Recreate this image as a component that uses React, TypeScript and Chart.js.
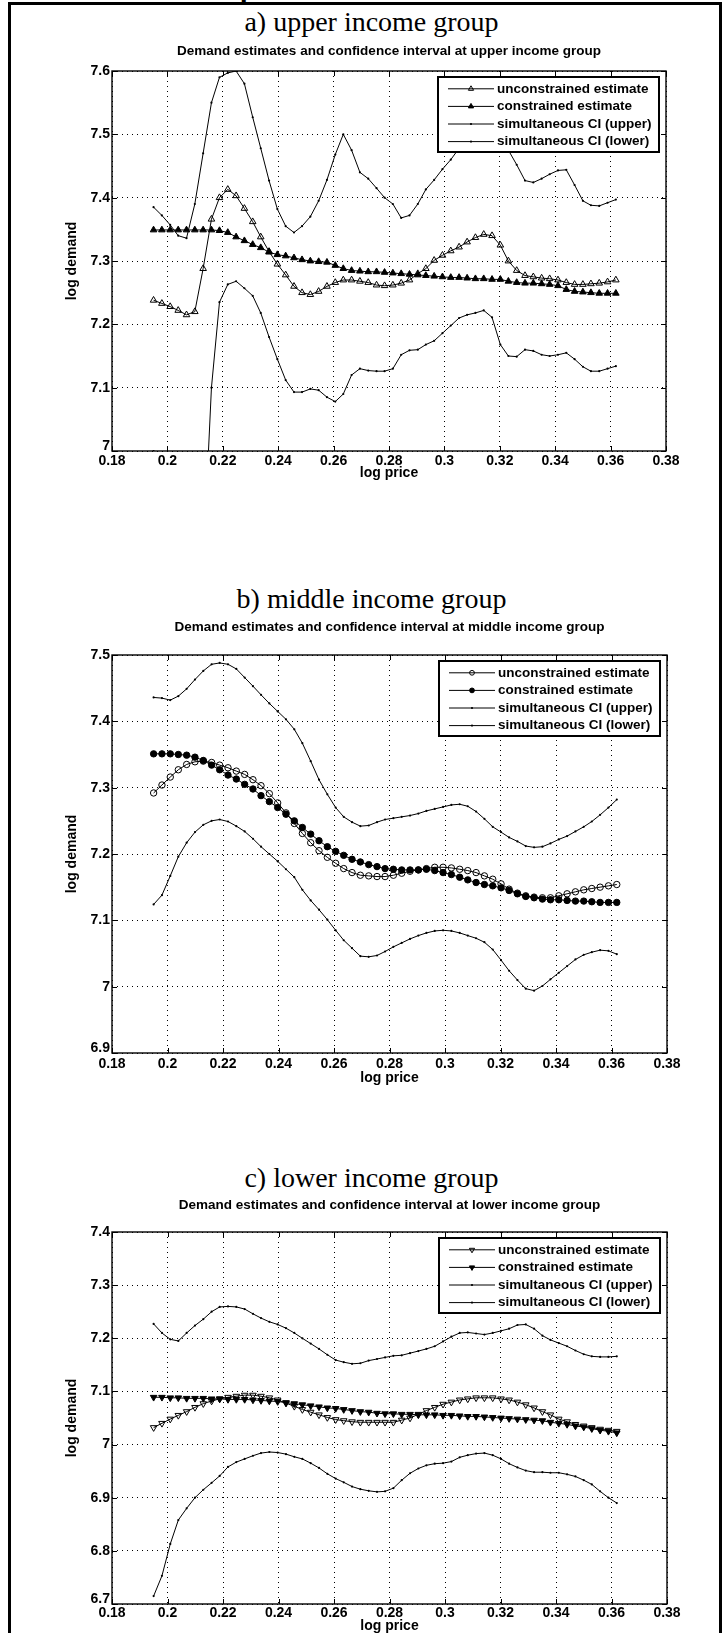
import React, { useEffect, useRef } from "react";
import { Chart, registerables } from "chart.js";

Chart.register(...registerables);

// ---------------- data ----------------
const logPrice = [
  0.195, 0.198, 0.201, 0.2039, 0.2069, 0.2099, 0.2129, 0.2159, 0.2188, 0.2218,
  0.2248, 0.2278, 0.2308, 0.2337, 0.2367, 0.2397, 0.2427, 0.2457, 0.2486, 0.2516,
  0.2546, 0.2576, 0.2606, 0.2635, 0.2665, 0.2695, 0.2725, 0.2755, 0.2784, 0.2814,
  0.2844, 0.2874, 0.2904, 0.2933, 0.2963, 0.2993, 0.3023, 0.3053, 0.3082, 0.3112,
  0.3142, 0.3172, 0.3202, 0.3231, 0.3261, 0.3291, 0.3321, 0.3351, 0.338, 0.341,
  0.344, 0.347, 0.35, 0.3529, 0.3559, 0.3589, 0.3619,
];

// a) upper income group
const upperUnconstrained = [
  7.238, 7.233, 7.228, 7.222, 7.215, 7.22, 7.288, 7.366, 7.4, 7.413,
  7.403, 7.383, 7.362, 7.338, 7.315, 7.295, 7.278, 7.26, 7.25, 7.247,
  7.252, 7.26, 7.266, 7.27, 7.27, 7.268, 7.266, 7.262, 7.261, 7.262,
  7.265, 7.27, 7.28, 7.288, 7.301, 7.309, 7.316, 7.322, 7.33, 7.337,
  7.342, 7.34, 7.325, 7.3, 7.285, 7.277, 7.275, 7.273, 7.272, 7.27,
  7.266, 7.263, 7.263, 7.264, 7.265, 7.267, 7.27,
];
const upperConstrained = [
  7.349, 7.349, 7.349, 7.349, 7.349, 7.349, 7.349, 7.349, 7.348, 7.345,
  7.338, 7.332, 7.326, 7.321, 7.314, 7.31, 7.308, 7.305, 7.302, 7.3,
  7.299, 7.298, 7.293, 7.288, 7.285, 7.284, 7.283, 7.283, 7.282, 7.281,
  7.28, 7.279, 7.278, 7.277, 7.276, 7.275, 7.274, 7.274, 7.273, 7.272,
  7.272, 7.271, 7.271, 7.268, 7.266, 7.265, 7.265, 7.264, 7.263, 7.261,
  7.255, 7.252, 7.251, 7.25, 7.249, 7.249, 7.249,
];
const upperCIHigh = [
  7.385, 7.372, 7.357, 7.34, 7.336, 7.39, 7.47, 7.55, 7.59, 7.597,
  7.6, 7.58, 7.527, 7.478, 7.427, 7.382, 7.355, 7.345, 7.355, 7.37,
  7.395, 7.428, 7.468, 7.5, 7.475, 7.44, 7.43, 7.415, 7.4, 7.39,
  7.368, 7.372, 7.39, 7.413, 7.428, 7.445, 7.46, 7.478, 7.5, 7.52,
  7.53, 7.52, 7.5, 7.475, 7.452, 7.427, 7.424, 7.43, 7.437, 7.443,
  7.444, 7.42, 7.395, 7.388, 7.387, 7.392, 7.397,
];
const upperCILow = [
  7.0, 6.95, 6.88, 6.84, 6.82, 6.81, 6.82, 7.1, 7.235, 7.263,
  7.268, 7.257, 7.245, 7.218, 7.18, 7.145, 7.112, 7.093, 7.093, 7.098,
  7.096, 7.085, 7.078, 7.09, 7.12, 7.13, 7.127, 7.126, 7.126, 7.13,
  7.152, 7.159, 7.16, 7.168, 7.174, 7.186, 7.198, 7.21, 7.215, 7.218,
  7.222, 7.211, 7.168, 7.15, 7.149, 7.16, 7.158, 7.152, 7.15, 7.152,
  7.155, 7.145, 7.133, 7.126, 7.126, 7.13, 7.134,
];

// b) middle income group
const middleUnconstrained = [
  7.292, 7.304, 7.316, 7.327, 7.335, 7.339, 7.34, 7.338, 7.334, 7.33,
  7.325, 7.32, 7.312, 7.303, 7.291, 7.277, 7.262, 7.246, 7.231, 7.217,
  7.205, 7.195, 7.186, 7.178, 7.172, 7.168, 7.167, 7.166, 7.166, 7.168,
  7.171, 7.174, 7.176, 7.178, 7.18, 7.18, 7.179, 7.177, 7.175, 7.172,
  7.167, 7.162, 7.155, 7.147, 7.141, 7.137, 7.135, 7.134, 7.134, 7.137,
  7.14, 7.143, 7.146, 7.148, 7.15, 7.152, 7.154,
];
const middleConstrained = [
  7.351, 7.351, 7.351, 7.35, 7.349, 7.346, 7.341, 7.334, 7.327, 7.319,
  7.313, 7.305, 7.298, 7.288, 7.279, 7.27, 7.26, 7.25, 7.24, 7.23,
  7.22, 7.211, 7.204, 7.198, 7.192, 7.188, 7.184, 7.181, 7.178, 7.177,
  7.176, 7.176, 7.176, 7.177, 7.175, 7.172, 7.169, 7.165, 7.161, 7.157,
  7.154, 7.152, 7.149, 7.145, 7.14, 7.136, 7.134, 7.132, 7.131, 7.131,
  7.13, 7.129, 7.129, 7.128, 7.127, 7.127, 7.127,
];
const middleCIHigh = [
  7.436, 7.435, 7.432, 7.438, 7.449, 7.463, 7.476, 7.486, 7.488, 7.486,
  7.479, 7.466, 7.453, 7.44, 7.427, 7.415, 7.403, 7.388, 7.367, 7.34,
  7.312, 7.29, 7.27, 7.256, 7.248, 7.242, 7.243, 7.248, 7.252, 7.254,
  7.256, 7.258, 7.261, 7.265, 7.268, 7.271, 7.274, 7.275, 7.272, 7.264,
  7.253, 7.241, 7.233, 7.225, 7.219, 7.212, 7.21, 7.211, 7.216, 7.222,
  7.227, 7.234, 7.241, 7.249, 7.259, 7.27, 7.282,
];
const middleCILow = [
  7.124, 7.138, 7.167, 7.196, 7.217, 7.233, 7.244, 7.25, 7.252, 7.249,
  7.242, 7.234, 7.223, 7.211, 7.2, 7.189, 7.177, 7.165, 7.146, 7.13,
  7.116, 7.101, 7.085, 7.07, 7.058, 7.046, 7.045, 7.047, 7.053, 7.06,
  7.066, 7.072, 7.077, 7.081, 7.084, 7.085, 7.084, 7.081, 7.077, 7.073,
  7.067, 7.056, 7.04, 7.024, 7.01, 6.997, 6.994, 7.001, 7.011, 7.021,
  7.031, 7.041, 7.048, 7.052, 7.055, 7.054, 7.049,
];

// c) lower income group
const lowerUnconstrained = [
  7.032, 7.04, 7.048, 7.055, 7.062, 7.07, 7.077, 7.082, 7.086, 7.089,
  7.091, 7.093, 7.093, 7.091, 7.088, 7.084, 7.078, 7.072, 7.066, 7.061,
  7.056, 7.051, 7.047, 7.045, 7.043, 7.042, 7.042, 7.042, 7.042, 7.042,
  7.046, 7.05, 7.057, 7.064, 7.07, 7.076, 7.08, 7.084, 7.086, 7.088,
  7.088, 7.088, 7.086, 7.084, 7.08, 7.075, 7.069, 7.062, 7.056, 7.048,
  7.043, 7.038, 7.035, 7.032, 7.029, 7.027, 7.025,
];
const lowerConstrained = [
  7.089, 7.089, 7.088, 7.088, 7.087, 7.087, 7.087, 7.086, 7.086, 7.085,
  7.085, 7.085, 7.084, 7.083, 7.082, 7.081, 7.079, 7.077, 7.075, 7.073,
  7.071, 7.069, 7.068, 7.066, 7.064, 7.062, 7.061, 7.059, 7.058, 7.058,
  7.057, 7.057, 7.056, 7.056, 7.056, 7.055, 7.055, 7.054, 7.053, 7.053,
  7.052, 7.051, 7.05, 7.049, 7.048, 7.047, 7.046, 7.045, 7.042, 7.04,
  7.038, 7.035, 7.033, 7.03, 7.027, 7.025, 7.022,
];
const lowerCIHigh = [
  7.227, 7.21, 7.198, 7.195, 7.21, 7.224, 7.236, 7.25, 7.259, 7.26,
  7.259, 7.255, 7.246, 7.238, 7.231, 7.226, 7.219, 7.21, 7.2, 7.19,
  7.18, 7.169, 7.159, 7.155, 7.152, 7.153, 7.158, 7.161, 7.164, 7.167,
  7.168, 7.172, 7.176, 7.18, 7.185, 7.194, 7.203, 7.21, 7.211, 7.209,
  7.207, 7.21, 7.214, 7.218, 7.225, 7.226, 7.218, 7.205, 7.197, 7.191,
  7.185, 7.177, 7.17, 7.166, 7.165, 7.165, 7.166,
];
const lowerCILow = [
  6.715, 6.753, 6.813, 6.858, 6.88, 6.9, 6.915, 6.928, 6.941, 6.958,
  6.967, 6.973, 6.979, 6.984, 6.986, 6.985, 6.982, 6.977, 6.973, 6.965,
  6.956, 6.945, 6.936, 6.929, 6.921, 6.916, 6.913, 6.911, 6.912, 6.918,
  6.933, 6.946, 6.955, 6.961, 6.964, 6.965, 6.968, 6.976, 6.98, 6.983,
  6.984, 6.98, 6.973, 6.964, 6.957, 6.951, 6.948, 6.948, 6.947, 6.947,
  6.944, 6.94, 6.933, 6.925, 6.912, 6.9, 6.89,
];

const seriesLabels = [
  "unconstrained estimate",
  "constrained estimate",
  "simultaneous CI (upper)",
  "simultaneous CI (lower)",
];
const xAxisLabel = "log price";
const yAxisLabel = "log demand";
const xRange = [0.18, 0.38];
const xStep = 0.02;
const yStep = 0.1;

// ---------------- layout ----------------
const SANS = "'Liberation Sans', Arial, Helvetica, sans-serif";
const SERIF = "'Liberation Serif', 'Times New Roman', Times, serif";

type MarkerKind = "triangle" | "circle";

type Panel = {
  heading: string;
  title: string;
  series: number[][];
  yMin: number;
  yMax: number;
  marker: MarkerKind;
  markerRotation: number;
  markerRadius: number;
  canvasTop: number;
  canvasHeight: number;
  headingTop: number;
  rightPad: number;
  xAxisHeight: number;
  xTickPad: number;
  xTitlePadBottom: number;
  titlePadTop: number;
  titlePadBottom: number;
};

const panels: Panel[] = [
  {
    heading: "a) upper income group",
    title: "Demand estimates and confidence interval at upper income group",
    series: [upperUnconstrained, upperConstrained, upperCIHigh, upperCILow],
    yMin: 7,
    yMax: 7.6,
    marker: "triangle",
    markerRotation: 0,
    markerRadius: 3.8,
    canvasTop: 0,
    canvasHeight: 500,
    headingTop: 7.5,
    rightPad: 58,
    xAxisHeight: 49,
    xTickPad: 1.5,
    xTitlePadBottom: 18.6,
    titlePadTop: 42.9,
    titlePadBottom: 11.9,
  },
  {
    heading: "b) middle income group",
    title: "Demand estimates and confidence interval at middle income group",
    series: [middleUnconstrained, middleConstrained, middleCIHigh, middleCILow],
    yMin: 6.9,
    yMax: 7.5,
    marker: "circle",
    markerRotation: 0,
    markerRadius: 3.2,
    canvasTop: 520,
    canvasHeight: 580,
    headingTop: 584.5,
    rightPad: 57,
    xAxisHeight: 47,
    xTickPad: 2.6,
    xTitlePadBottom: 13.6,
    titlePadTop: 98.9,
    titlePadBottom: 19.9,
  },
  {
    heading: "c) lower income group",
    title: "Demand estimates and confidence interval at lower income group",
    series: [lowerUnconstrained, lowerConstrained, lowerCIHigh, lowerCILow],
    yMin: 6.7,
    yMax: 7.4,
    marker: "triangle",
    markerRotation: 180,
    markerRadius: 3.8,
    canvasTop: 1100,
    canvasHeight: 545,
    headingTop: 1163.5,
    rightPad: 57,
    xAxisHeight: 41,
    xTickPad: 0.6,
    xTitlePadBottom: 10.6,
    titlePadTop: 96.9,
    titlePadBottom: 18.9,
  },
];

function drawMarker(
  ctx: CanvasRenderingContext2D,
  kind: MarkerKind,
  rotationDeg: number,
  r: number,
  x: number,
  y: number,
  filled: boolean
) {
  ctx.beginPath();
  if (kind === "circle") {
    ctx.arc(x, y, r, 0, Math.PI * 2);
  } else {
    let rad = (rotationDeg * Math.PI) / 180;
    for (let i = 0; i < 3; i++) {
      const px = x + Math.sin(rad) * r;
      const py = y - Math.cos(rad) * r;
      if (i === 0) ctx.moveTo(px, py);
      else ctx.lineTo(px, py);
      rad += (2 * Math.PI) / 3;
    }
    ctx.closePath();
  }
  if (filled) {
    ctx.fillStyle = "#000";
    ctx.fill();
  }
  ctx.strokeStyle = "#000";
  ctx.lineWidth = 1;
  ctx.stroke();
}

function makeFramePlugin(panel: Panel) {
  return {
    id: "matlabFrame",
    afterDraw(chart: any) {
      const ctx: CanvasRenderingContext2D = chart.ctx;
      const ca = chart.chartArea;
      const xs = chart.scales.x;
      const ys = chart.scales.y;
      ctx.save();
      // inward tick marks on all four sides
      ctx.strokeStyle = "#000";
      ctx.lineWidth = 1;
      const tl = 5;
      ctx.beginPath();
      xs.ticks.forEach((t: any) => {
        const px = Math.round(xs.getPixelForValue(t.value)) + 0.5;
        ctx.moveTo(px, ca.bottom);
        ctx.lineTo(px, ca.bottom - tl);
        ctx.moveTo(px, ca.top);
        ctx.lineTo(px, ca.top + tl);
      });
      ys.ticks.forEach((t: any) => {
        const py = Math.round(ys.getPixelForValue(t.value)) + 0.5;
        ctx.moveTo(ca.left, py);
        ctx.lineTo(ca.left + tl, py);
        ctx.moveTo(ca.right, py);
        ctx.lineTo(ca.right - tl, py);
      });
      ctx.stroke();
      // axes box
      ctx.lineWidth = 1.4;
      ctx.strokeRect(ca.left, ca.top, ca.right - ca.left, ca.bottom - ca.top);

      // legend
      const bw = 221;
      const bh = 75;
      const bx = ca.right - 7 - bw;
      const by = ca.top + 6;
      ctx.fillStyle = "#fff";
      ctx.fillRect(bx, by, bw, bh);
      ctx.lineWidth = 2;
      ctx.strokeRect(bx, by, bw, bh);
      ctx.font = `bold 13.5px ${SANS}`;
      ctx.textBaseline = "middle";
      ctx.textAlign = "left";
      chart.data.datasets.forEach((ds: any, i: number) => {
        const y = by + 11.8 + i * 17.6;
        ctx.beginPath();
        ctx.moveTo(bx + 10, y);
        ctx.lineTo(bx + 56, y);
        ctx.strokeStyle = "#000";
        ctx.lineWidth = 1;
        ctx.stroke();
        const cx = bx + 33;
        if (i < 2) {
          drawMarker(ctx, panel.marker, panel.markerRotation, panel.markerRadius - 0.8, cx, y, i === 1);
        } else {
          ctx.beginPath();
          ctx.arc(cx, y, 1.1, 0, Math.PI * 2);
          ctx.fillStyle = "#000";
          ctx.fill();
        }
        ctx.fillStyle = "#000";
        ctx.fillText(ds.label, bx + 59, y);
      });
      ctx.restore();
    },
  };
}

function fmt(v: number, digits: number) {
  const p = Math.pow(10, digits);
  return String(Math.round(v * p) / p);
}

function PanelChart({ panel }: { panel: Panel }) {
  const ref = useRef<HTMLCanvasElement | null>(null);
  useEffect(() => {
    if (!ref.current) return;
    const styles = [
      { open: true, radius: panel.markerRadius, kind: panel.marker },
      { open: false, radius: panel.markerRadius, kind: panel.marker },
      { open: false, radius: 1.1, kind: "circle" as MarkerKind },
      { open: false, radius: 1.1, kind: "circle" as MarkerKind },
    ];
    const datasets = panel.series.map((s, i) => {
      const st = styles[i];
      return {
        label: seriesLabels[i],
        data: logPrice.map((x, k) => ({ x, y: s[k] })),
        borderColor: "#000",
        borderWidth: 1,
        backgroundColor: "#000",
        fill: false,
        tension: 0,
        pointStyle: st.kind,
        pointRotation: st.kind === "triangle" ? panel.markerRotation : 0,
        pointRadius: st.radius,
        pointBorderColor: "#000",
        pointBorderWidth: i < 2 ? 1 : 0,
        pointBackgroundColor: st.open ? "rgba(255,255,255,0)" : "#000",
      };
    });
    const xTickFont = { family: SANS, size: 14, weight: "bold" as const };
    // smaller line height: the lowest y label is lifted half a line, as in the original
    const yTickFont = { family: SANS, size: 14, weight: "bold" as const, lineHeight: 0.7 };
    const chart = new Chart(ref.current, {
      type: "line",
      data: { datasets },
      plugins: [makeFramePlugin(panel)],
      options: {
        animation: false,
        responsive: false,
        devicePixelRatio: 1,
        events: [],
        layout: { padding: { left: 0, right: panel.rightPad, top: 0, bottom: 0 } },
        plugins: {
          legend: { display: false },
          tooltip: { enabled: false },
          title: {
            display: true,
            text: panel.title,
            fullSize: false,
            color: "#000",
            font: { family: SANS, size: 13.5, weight: "bold", lineHeight: 1.2 },
            padding: { top: panel.titlePadTop, bottom: panel.titlePadBottom },
          },
        },
        scales: {
          x: {
            type: "linear",
            min: xRange[0],
            max: xRange[1],
            afterFit: (s: any) => {
              s.height = panel.xAxisHeight;
            },
            ticks: {
              stepSize: xStep,
              color: "#000",
              font: xTickFont,
              padding: panel.xTickPad,
              maxRotation: 0,
              autoSkip: false,
              callback: (v: any) => fmt(Number(v), 2),
            },
            grid: { color: "#000", lineWidth: 1, drawTicks: false },
            border: { display: false, dash: [1, 4] },
            title: {
              display: true,
              text: xAxisLabel,
              color: "#000",
              font: { family: SANS, size: 14, weight: "bold", lineHeight: 1.2 },
              padding: { top: 0, bottom: panel.xTitlePadBottom },
            },
          },
          y: {
            type: "linear",
            min: panel.yMin,
            max: panel.yMax,
            afterFit: (s: any) => {
              s.width = 112;
            },
            ticks: {
              stepSize: yStep,
              color: "#000",
              font: yTickFont,
              padding: 2,
              autoSkip: false,
              callback: (v: any, i: number) => (i === 0 ? [fmt(Number(v), 1), ""] : fmt(Number(v), 1)),
            },
            grid: { color: "#000", lineWidth: 1, drawTicks: false },
            border: { display: false, dash: [1, 4] },
            title: {
              display: true,
              text: yAxisLabel,
              color: "#000",
              font: { family: SANS, size: 14, weight: "bold", lineHeight: 1.2 },
              padding: { top: 63.6, bottom: 0 },
            },
          },
        },
      } as any,
    });
    return () => chart.destroy();
  }, [panel]);

  return (
    <>
      <div
        style={{
          position: "absolute",
          left: 0,
          top: panel.headingTop,
          width: 743,
          textAlign: "center",
          fontFamily: SERIF,
          fontSize: 28,
          lineHeight: "28px",
          color: "#000",
          whiteSpace: "nowrap",
        }}
      >
        {panel.heading}
      </div>
      <canvas
        ref={ref}
        width={724}
        height={panel.canvasHeight}
        style={{
          position: "absolute",
          left: 0,
          top: panel.canvasTop,
          width: 724,
          height: panel.canvasHeight,
          display: "block",
        }}
      />
    </>
  );
}

export default function App() {
  return (
    <div
      style={{
        position: "absolute",
        left: 0,
        top: 0,
        width: 724,
        height: 1633,
        overflow: "hidden",
        background: "#fff",
      }}
    >
      {/* cropped descender of text above the figure frame */}
      <div
        style={{
          position: "absolute",
          left: 238,
          top: 0,
          width: 20,
          height: 4,
          overflow: "hidden",
        }}
      >
        <span
          style={{
            position: "absolute",
            left: 2,
            top: -24,
            fontFamily: SERIF,
            fontWeight: "bold",
            fontSize: 28,
            lineHeight: "28px",
            color: "#000",
          }}
        >
          p
        </span>
      </div>
      <div
        style={{
          position: "absolute",
          left: 8,
          top: 2,
          width: 714,
          height: 1700,
          boxSizing: "border-box",
          borderTop: "3px solid #000",
          borderLeft: "3px solid #000",
          borderRight: "3px solid #000",
        }}
      />
      {panels.map((p) => (
        <PanelChart key={p.heading} panel={p} />
      ))}
    </div>
  );
}
